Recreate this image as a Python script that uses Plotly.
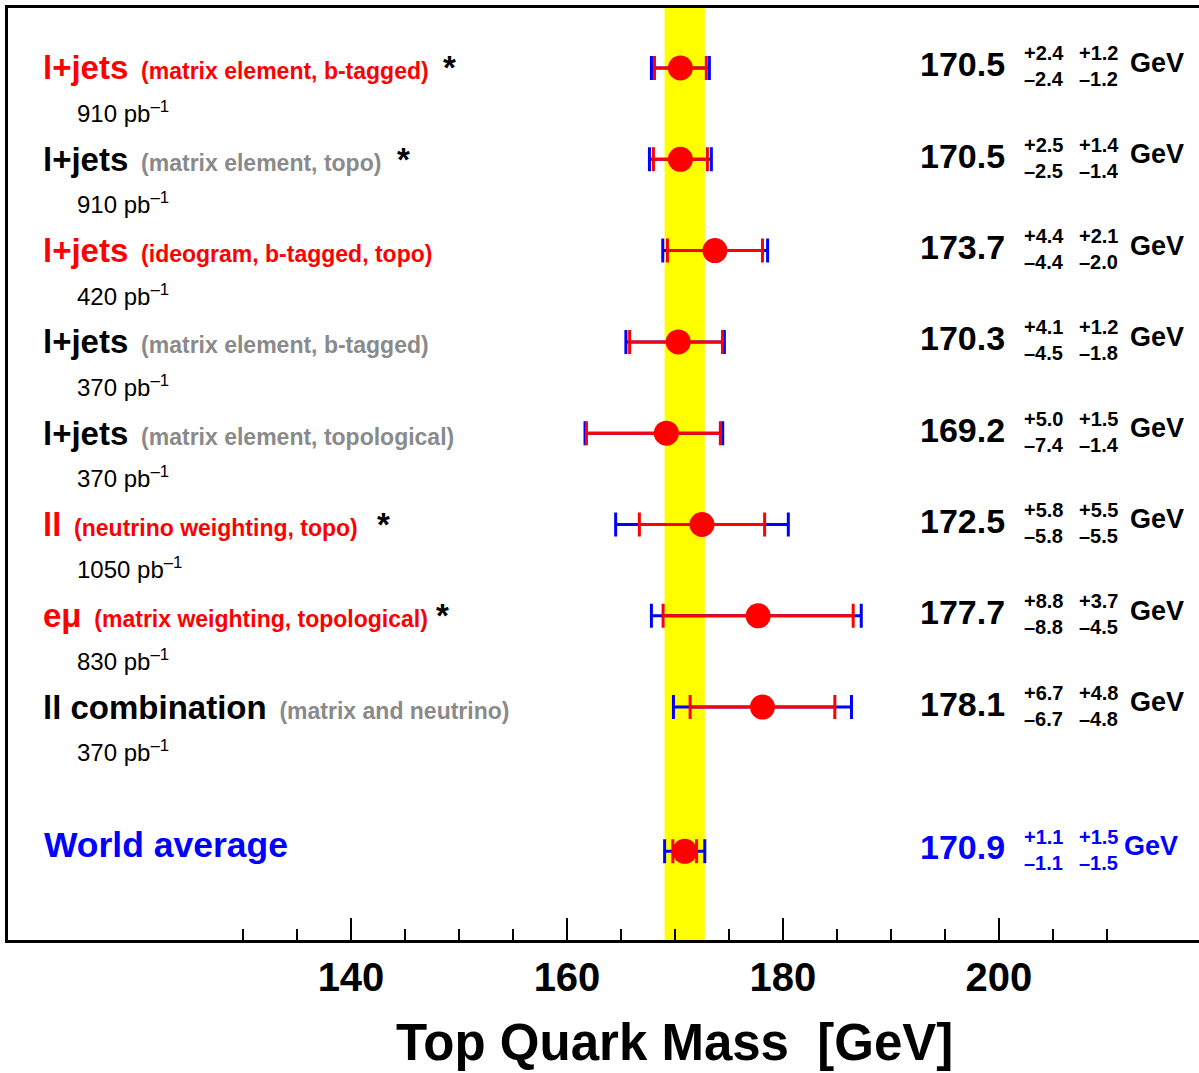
import math
import plotly.graph_objects as go

FONT = "Liberation Sans"
RED = "#ff0000"
BLUE = "#0000ff"
GRAY = "#8a8a8a"
YELLOW = "#ffff00"

# ---------------- data ----------------
channels = ["l+jets", "l+jets", "l+jets", "l+jets", "l+jets", "ll", "eμ", "ll combination"]
methods = [
    "(matrix element, b-tagged)",
    "(matrix element, topo)",
    "(ideogram, b-tagged, topo)",
    "(matrix element, b-tagged)",
    "(matrix element, topological)",
    "(neutrino weighting, topo)",
    "(matrix weighting, topological)",
    "(matrix and neutrino)",
]
highlighted = [True, False, True, False, False, True, True, False]
starred = [True, True, False, False, False, True, True, False]
lumi_pb = [910, 910, 420, 370, 370, 1050, 830, 370]
mass = [170.5, 170.5, 173.7, 170.3, 169.2, 172.5, 177.7, 178.1]
stat_up = [2.4, 2.5, 4.4, 4.1, 5.0, 5.8, 8.8, 6.7]
stat_dn = [2.4, 2.5, 4.4, 4.5, 7.4, 5.8, 8.8, 6.7]
syst_up = [1.2, 1.4, 2.1, 1.2, 1.5, 5.5, 3.7, 4.8]
syst_dn = [1.2, 1.4, 2.0, 1.8, 1.4, 5.5, 4.5, 4.8]

wa_label = "World average"
wa_mass = 170.9
wa_stat = 1.1
wa_syst = 1.5

x_major_ticks = [140, 160, 180, 200]
x_major_labels = ["140", "160", "180", "200"]
x_minor_ticks = [130, 135, 140, 145, 150, 155, 160, 165, 170, 175, 180, 185, 190, 195, 200, 205, 210]
x_title = "Top Quark Mass\u00a0\u00a0[GeV]"

# ---------------- layout geometry ----------------
W, H = 1199, 1073
ML, MR, MT, MB = 8, 0, 8, 133
PW, PH = W - ML - MR, H - MT - MB
X_RANGE = [108.24, 218.52]
Y_RANGE = [-0.551, 9.657]
PX_PER_Y = PH / (Y_RANGE[1] - Y_RANGE[0])

n = len(mass)
row_y = [9 - i for i in range(n)]
wa_y = 0.42

def quad(a, b):
    return math.sqrt(a * a + b * b)

tot_up = [quad(a, b) for a, b in zip(stat_up, syst_up)]
tot_dn = [quad(a, b) for a, b in zip(stat_dn, syst_dn)]
wa_tot = quad(wa_stat, wa_syst)

def px2paper(px):
    return (px - ML) / PW

def yoff(y, off_px):
    return y - off_px / PX_PER_Y

fig = go.Figure()

# world-average band
fig.add_shape(type="rect", xref="x", yref="paper",
              x0=wa_mass - wa_tot, x1=wa_mass + wa_tot, y0=0, y1=1,
              fillcolor=YELLOW, line=dict(width=0), layer="below")

all_x = mass + [wa_mass]
all_y = row_y + [wa_y]

# total uncertainty (blue)
fig.add_trace(go.Scatter(
    x=all_x, y=all_y, mode="markers",
    marker=dict(size=2, color="rgba(0,0,0,0)"),
    error_x=dict(type="data", symmetric=False,
                 array=tot_up + [wa_tot], arrayminus=tot_dn + [wa_tot],
                 color=BLUE, thickness=3, width=12),
    hoverinfo="skip", showlegend=False))

# statistical uncertainty (red) + central value
fig.add_trace(go.Scatter(
    x=all_x, y=all_y, mode="markers",
    marker=dict(size=25, color=RED),
    error_x=dict(type="data", symmetric=False,
                 array=stat_up + [wa_stat], arrayminus=stat_dn + [wa_stat],
                 color=RED, thickness=3, width=12),
    hoverinfo="skip", showlegend=False))

ann = []
LABEL_X = 41
LUMI_X = 75
STAR_X = [449, 403, None, None, None, 383, 442, None]
VAL_R = 1007
STAT_L = 1022
SYST_L = 1077
GEV_L = 1128

def fmt(v):
    return f"{v:.1f}"

for i in range(n):
    y = row_y[i]
    main_col = RED if highlighted[i] else "black"
    sub_col = RED if highlighted[i] else GRAY
    txt = (f"{channels[i]}<span style='font-size:23px;color:{sub_col}'>"
           f"\u00a0\u00a0{methods[i]}</span>")
    ann.append(dict(x=px2paper(LABEL_X), y=yoff(y, 0), xref="paper", yref="y",
                    text=txt, showarrow=False, xanchor="left", yanchor="middle",
                    font=dict(family=FONT, size=33, color=main_col, weight="bold")))
    if starred[i]:
        ann.append(dict(x=px2paper(STAR_X[i]), y=yoff(y, 0), xref="paper", yref="y",
                        text="*", showarrow=False, xanchor="center", yanchor="middle",
                        font=dict(family=FONT, size=33, color="black", weight="bold")))
    ann.append(dict(x=px2paper(LUMI_X), y=yoff(y, 44), xref="paper", yref="y",
                    text=f"{lumi_pb[i]} pb<sup>\u20131</sup>", showarrow=False,
                    xanchor="left", yanchor="middle",
                    font=dict(family=FONT, size=24, color="black")))
    # right-hand numbers
    ann.append(dict(x=px2paper(VAL_R), y=yoff(y, -3.5), xref="paper", yref="y",
                    text=fmt(mass[i]), showarrow=False, xanchor="right", yanchor="middle",
                    font=dict(family=FONT, size=34, color="black", weight="bold")))
    ann.append(dict(x=px2paper(STAT_L), y=yoff(y, -1.5), xref="paper", yref="y",
                    text=f"+{fmt(stat_up[i])}<br>\u2013{fmt(stat_dn[i])}", showarrow=False,
                    xanchor="left", yanchor="middle", align="left",
                    font=dict(family=FONT, size=20, color="black", weight="bold")))
    ann.append(dict(x=px2paper(SYST_L), y=yoff(y, -1.5), xref="paper", yref="y",
                    text=f"+{fmt(syst_up[i])}<br>\u2013{fmt(syst_dn[i])}", showarrow=False,
                    xanchor="left", yanchor="middle", align="left",
                    font=dict(family=FONT, size=20, color="black", weight="bold")))
    ann.append(dict(x=px2paper(GEV_L), y=yoff(y, -5), xref="paper", yref="y",
                    text="GeV", showarrow=False, xanchor="left", yanchor="middle",
                    font=dict(family=FONT, size=27, color="black", weight="bold")))

# world average row
ann.append(dict(x=px2paper(42), y=yoff(wa_y, -6), xref="paper", yref="y",
                text=wa_label, showarrow=False, xanchor="left", yanchor="middle",
                font=dict(family=FONT, size=35.5, color=BLUE, weight="bold")))
ann.append(dict(x=px2paper(VAL_R), y=yoff(wa_y, -4.5), xref="paper", yref="y",
                text=fmt(wa_mass), showarrow=False, xanchor="right", yanchor="middle",
                font=dict(family=FONT, size=34, color=BLUE, weight="bold")))
ann.append(dict(x=px2paper(STAT_L), y=yoff(wa_y, -1), xref="paper", yref="y",
                text=f"+{fmt(wa_stat)}<br>\u2013{fmt(wa_stat)}", showarrow=False,
                xanchor="left", yanchor="middle", align="left",
                font=dict(family=FONT, size=20, color=BLUE, weight="bold")))
ann.append(dict(x=px2paper(SYST_L), y=yoff(wa_y, -1), xref="paper", yref="y",
                text=f"+{fmt(wa_syst)}<br>\u2013{fmt(wa_syst)}", showarrow=False,
                xanchor="left", yanchor="middle", align="left",
                font=dict(family=FONT, size=20, color=BLUE, weight="bold")))
ann.append(dict(x=px2paper(1122), y=yoff(wa_y, -5), xref="paper", yref="y",
                text="GeV", showarrow=False, xanchor="left", yanchor="middle",
                font=dict(family=FONT, size=27, color=BLUE, weight="bold")))

# axis title
ann.append(dict(x=px2paper(674.5), y=(940 - 1042) / PH,
                xref="paper", yref="paper", text=x_title, showarrow=False,
                xanchor="center", yanchor="middle",
                font=dict(family=FONT, size=51, color="black", weight="bold")))

fig.update_layout(
    width=W, height=H,
    margin=dict(l=ML, r=MR, t=MT, b=MB, pad=0),
    paper_bgcolor="white", plot_bgcolor="white",
    showlegend=False,
    annotations=ann,
    xaxis=dict(range=X_RANGE, showgrid=False, zeroline=False,
               showline=True, linewidth=3, linecolor="black", mirror=True,
               tickmode="array", tickvals=x_major_ticks, ticktext=x_major_labels,
               ticks="inside", ticklen=22, tickwidth=2, tickcolor="black",
               tickfont=dict(family=FONT, size=40, color="black", weight="bold"),
               minor=dict(tickmode="array", tickvals=x_minor_ticks, ticks="inside",
                          ticklen=11, tickwidth=2, tickcolor="black", showgrid=False)),
    yaxis=dict(range=Y_RANGE, showgrid=False, zeroline=False,
               showline=True, linewidth=3, linecolor="black",
               showticklabels=False, ticks=""),
)

fig.write_html("out.html")
